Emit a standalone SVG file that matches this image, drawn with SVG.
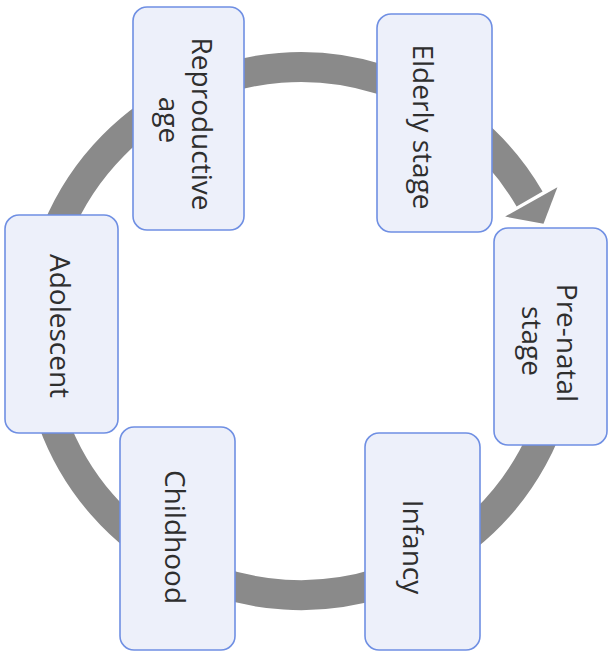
<svg xmlns="http://www.w3.org/2000/svg" width="613" height="652" viewBox="0 0 613 652">
<defs>
<style>
.box{fill:#edf0fa;stroke:#6f8fe3;stroke-width:1.6}
.lbl{font-family:"Open Sans","Liberation Sans",sans-serif;font-size:28px;fill:#2e2e2e;text-anchor:middle}
.ring{fill:none;stroke:#8a8a8a;stroke-width:30}
.head{fill:#8a8a8a}
</style>
</defs>
<rect width="613" height="652" fill="#ffffff"/>
<g id="connectors">
<path class="ring" d="M556.0,262.7 A264,264 0 0 1 52.9,421.3 A264,264 0 0 1 529.6,199.0"/>
<polygon class="head" points="505.1,216.6 557.4,187.2 543.5,223.7"/>
</g>
<g id="reproductive">
<rect class="box" x="133" y="7" width="111" height="223" rx="14"/>
<text class="lbl" transform="translate(192,124) rotate(90)">Reproductive</text>
<text class="lbl" transform="translate(159,120) rotate(90)">age</text>
</g>
<g id="elderly">
<rect class="box" x="377" y="14" width="115" height="218" rx="14"/>
<text class="lbl" transform="translate(413,127) rotate(90)">Elderly stage</text>
</g>
<g id="prenatal">
<rect class="box" x="494" y="228" width="113" height="217" rx="14"/>
<text class="lbl" transform="translate(557,343) rotate(90)">Pre-natal</text>
<text class="lbl" transform="translate(522,341) rotate(90)">stage</text>
</g>
<g id="adolescent">
<rect class="box" x="5" y="215" width="113" height="218" rx="14"/>
<text class="lbl" transform="translate(50,326) rotate(90)">Adolescent</text>
</g>
<g id="childhood">
<rect class="box" x="120" y="427" width="115" height="223" rx="14"/>
<text class="lbl" transform="translate(165,537) rotate(90)">Childhood</text>
</g>
<g id="infancy">
<rect class="box" x="365" y="433" width="115" height="217" rx="14"/>
<text class="lbl" transform="translate(403,547) rotate(90)">Infancy</text>
</g>
</svg>
